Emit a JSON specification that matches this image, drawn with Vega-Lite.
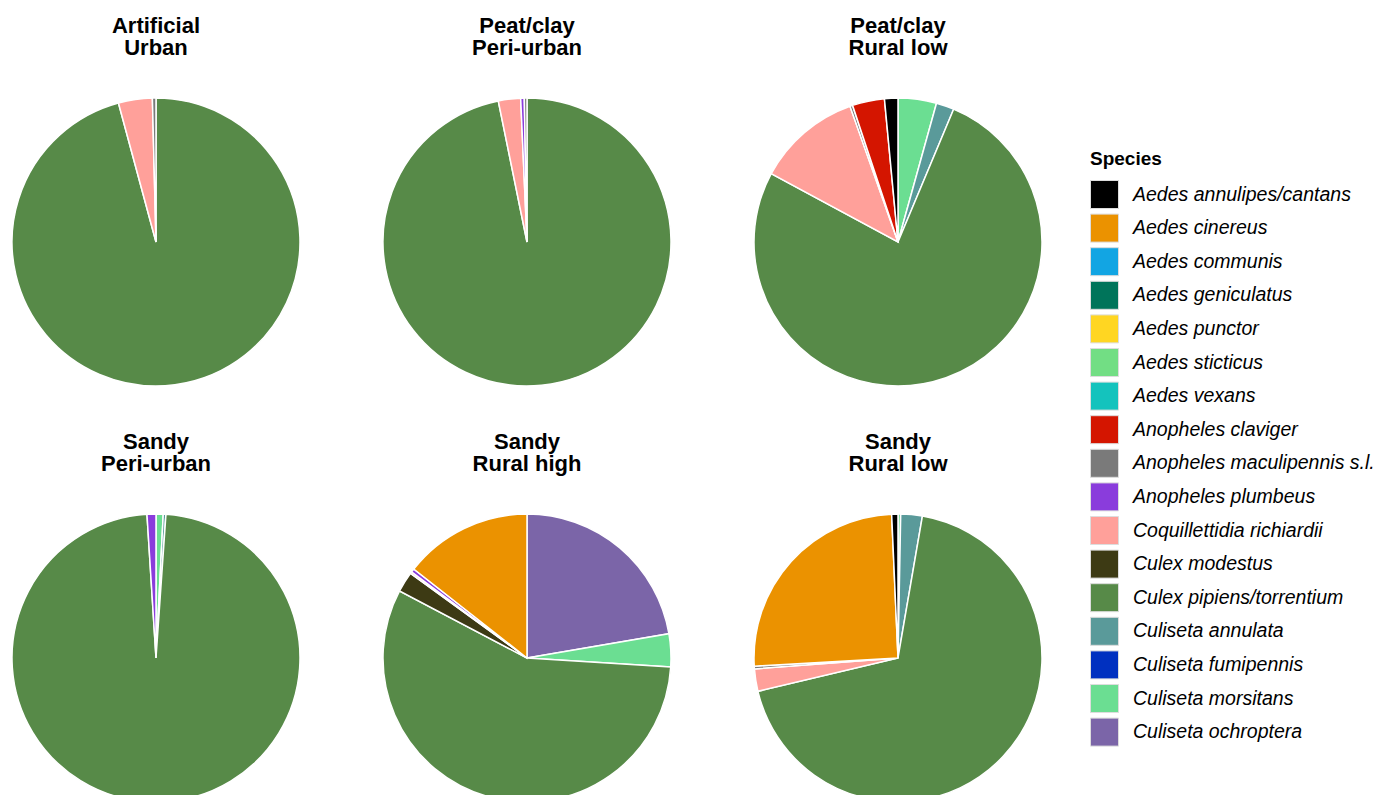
{
  "$schema": "https://vega.github.io/schema/vega-lite/v6.json",
  "padding": {"left": 9, "top": 15, "right": 0, "bottom": 0},
  "background": "white",
  "data": {"values": [
    {"site": "Artificial|Urban", "species": "Culex pipiens/torrentium", "pct": 95.8},
    {"site": "Artificial|Urban", "species": "Coquillettidia richiardii", "pct": 3.8},
    {"site": "Artificial|Urban", "species": "Anopheles maculipennis s.l.", "pct": 0.4},
    {"site": "Peat/clay|Peri-urban", "species": "Culex pipiens/torrentium", "pct": 96.8},
    {"site": "Peat/clay|Peri-urban", "species": "Coquillettidia richiardii", "pct": 2.5},
    {"site": "Peat/clay|Peri-urban", "species": "Anopheles plumbeus", "pct": 0.4},
    {"site": "Peat/clay|Peri-urban", "species": "Anopheles maculipennis s.l.", "pct": 0.3},
    {"site": "Peat/clay|Rural low", "species": "Culiseta morsitans", "pct": 4.3},
    {"site": "Peat/clay|Rural low", "species": "Culiseta annulata", "pct": 2.0},
    {"site": "Peat/clay|Rural low", "species": "Culex pipiens/torrentium", "pct": 76.4},
    {"site": "Peat/clay|Rural low", "species": "Coquillettidia richiardii", "pct": 11.7},
    {"site": "Peat/clay|Rural low", "species": "Anopheles maculipennis s.l.", "pct": 0.3},
    {"site": "Peat/clay|Rural low", "species": "Anopheles claviger", "pct": 3.6},
    {"site": "Peat/clay|Rural low", "species": "Aedes annulipes/cantans", "pct": 1.5},
    {"site": "Sandy|Peri-urban", "species": "Culiseta morsitans", "pct": 0.8},
    {"site": "Sandy|Peri-urban", "species": "Culiseta annulata", "pct": 0.3},
    {"site": "Sandy|Peri-urban", "species": "Culex pipiens/torrentium", "pct": 97.9},
    {"site": "Sandy|Peri-urban", "species": "Anopheles plumbeus", "pct": 1.0},
    {"site": "Sandy|Rural high", "species": "Culiseta ochroptera", "pct": 22.3},
    {"site": "Sandy|Rural high", "species": "Culiseta morsitans", "pct": 3.7},
    {"site": "Sandy|Rural high", "species": "Culex pipiens/torrentium", "pct": 56.7},
    {"site": "Sandy|Rural high", "species": "Culex modestus", "pct": 2.3},
    {"site": "Sandy|Rural high", "species": "Coquillettidia richiardii", "pct": 0.2},
    {"site": "Sandy|Rural high", "species": "Anopheles plumbeus", "pct": 0.4},
    {"site": "Sandy|Rural high", "species": "Aedes cinereus", "pct": 14.4},
    {"site": "Sandy|Rural low", "species": "Culiseta morsitans", "pct": 0.3},
    {"site": "Sandy|Rural low", "species": "Culiseta annulata", "pct": 2.4},
    {"site": "Sandy|Rural low", "species": "Culex pipiens/torrentium", "pct": 68.3},
    {"site": "Sandy|Rural low", "species": "Coquillettidia richiardii", "pct": 2.5},
    {"site": "Sandy|Rural low", "species": "Anopheles maculipennis s.l.", "pct": 0.3},
    {"site": "Sandy|Rural low", "species": "Aedes cinereus", "pct": 25.1},
    {"site": "Sandy|Rural low", "species": "Aedes annulipes/cantans", "pct": 0.7}
  ]},
  "facet": {
    "field": "site",
    "type": "nominal",
    "header": {
      "title": null,
      "labelExpr": "split(datum.value, '|')",
      "labelFont": "Liberation Sans",
      "labelFontSize": 22,
      "labelFontWeight": "bold",
      "labelColor": "black",
      "labelLineHeight": 22,
      "labelPadding": 35
    }
  },
  "columns": 3,
  "spacing": {"column": 77, "row": 42},
  "spec": {
    "width": 288,
    "height": 288,
    "mark": {"type": "arc", "stroke": "white", "strokeWidth": 1.5, "outerRadius": 144},
    "encoding": {
      "theta": {"field": "pct", "type": "quantitative", "stack": true},
      "order": {"field": "species", "sort": "descending"},
      "color": {
        "field": "species",
        "type": "nominal",
        "scale": {
          "domain": ["Aedes annulipes/cantans", "Aedes cinereus", "Aedes communis", "Aedes geniculatus", "Aedes punctor", "Aedes sticticus", "Aedes vexans", "Anopheles claviger", "Anopheles maculipennis s.l.", "Anopheles plumbeus", "Coquillettidia richiardii", "Culex modestus", "Culex pipiens/torrentium", "Culiseta annulata", "Culiseta fumipennis", "Culiseta morsitans", "Culiseta ochroptera"],
          "range": ["#000000", "#EB9200", "#12A5E3", "#00745A", "#FFD622", "#72DE84", "#14C3BD", "#D41500", "#7A7A7A", "#8A3CDC", "#FFA09A", "#3D3A14", "#578A48", "#5A9A9A", "#0030C0", "#6BDE92", "#7B65A8"]
        },
        "legend": {
          "title": "Species",
          "orient": "none",
          "legendX": 1078,
          "legendY": 52,
          "padding": 0,
          "titleFont": "Liberation Sans",
          "titleFontSize": 19,
          "titleFontWeight": "bold",
          "titleColor": "black",
          "titlePadding": 11,
          "labelFont": "Liberation Sans",
          "labelFontSize": 19.5,
          "labelFontStyle": "italic",
          "labelColor": "black",
          "labelOffset": 14,
          "symbolType": "square",
          "symbolSize": 784,
          "symbolOpacity": 1,
          "symbolStrokeColor": "#dddddd",
          "symbolStrokeWidth": 1,
          "rowPadding": 0.6,
          "labelLimit": 400
        }
      }
    }
  },
  "config": {"view": {"stroke": null}}
}
